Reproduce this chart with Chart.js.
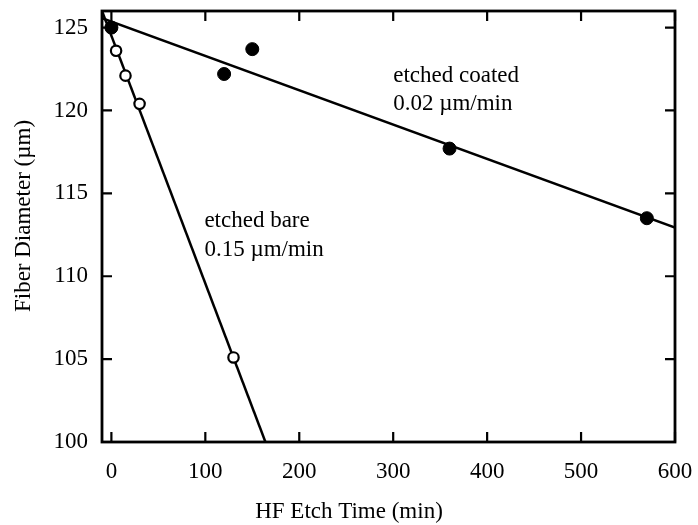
<!DOCTYPE html>
<html>
<head>
<meta charset="utf-8">
<script src="https://cdn.jsdelivr.net/npm/chart.js@4.4.1/dist/chart.umd.min.js"></script>
<style>
  html, body { margin: 0; padding: 0; background: #fff; }
  #wrap { width: 698px; height: 525px; }
</style>
</head>
<body>
<div id="wrap"><canvas id="grafik" width="698" height="525"></canvas></div>
<script>
// data
const coatedTime = [0, 120, 150, 360, 570];
const coatedDiam = [125.0, 122.2, 123.7, 117.7, 113.5];
const bareTime = [0, 5, 15, 30, 130];
const bareDiam = [125.0, 123.6, 122.1, 120.4, 105.1];
// fitted lines (end points)
const coatedFitTime = [-10, 600];
const coatedFitDiam = [125.56, 112.93];
const bareFitTime = [-10, 164];
const bareFitDiam = [126.0, 100.0];
// axes
const xTicks = [0, 100, 200, 300, 400, 500, 600];
const yTicks = [100, 105, 110, 115, 120, 125];
const xTitle = "HF Etch Time (min)";
const yTitle = "Fiber Diameter (\u00b5m)";
const notes = [
  { x: 300, y: 121.72, text: "etched coated" },
  { x: 300, y: 120.0, text: "0.02 \u00b5m/min" },
  { x: 99, y: 112.94, text: "etched bare" },
  { x: 99, y: 111.23, text: "0.15 \u00b5m/min" },
];

const FAMILY = "'Liberation Serif', 'Times New Roman', serif";
const SIZE = 23;

function pts(xs, ys) {
  return xs.map((x, i) => ({ x: x, y: ys[i] }));
}

// frame, inward ticks, titles and notes
const bingkai = {
  id: "bingkai",
  afterDatasetsDraw(chart) {
    const { ctx, chartArea: a, scales } = chart;
    const sx = scales.x, sy = scales.y;
    ctx.save();
    ctx.strokeStyle = "#000";
    ctx.lineWidth = 2.2;
    ctx.beginPath();
    xTicks.forEach((v) => {
      const px = sx.getPixelForValue(v);
      ctx.moveTo(px, a.bottom); ctx.lineTo(px, a.bottom - 10);
      ctx.moveTo(px, a.top); ctx.lineTo(px, a.top + 10);
    });
    yTicks.forEach((v) => {
      const py = sy.getPixelForValue(v);
      ctx.moveTo(a.left, py); ctx.lineTo(a.left + 10, py);
      ctx.moveTo(a.right, py); ctx.lineTo(a.right - 10, py);
    });
    ctx.stroke();
    ctx.lineWidth = 2.8;
    ctx.strokeRect(a.left, a.top, a.right - a.left, a.bottom - a.top);

    ctx.fillStyle = "#000";
    ctx.font = SIZE + "px " + FAMILY;
    ctx.textAlign = "left";
    ctx.textBaseline = "alphabetic";
    notes.forEach((n) => {
      ctx.fillText(n.text, sx.getPixelForValue(n.x), sy.getPixelForValue(n.y));
    });

    ctx.textAlign = "center";
    ctx.textBaseline = "middle";
    ctx.fillText(xTitle, chart.width / 2, 512);
    ctx.translate(24, 216);
    ctx.rotate(-Math.PI / 2);
    ctx.fillText(yTitle, 0, 0);
    ctx.restore();
  },
};

const ctx = document.getElementById("grafik").getContext("2d");
new Chart(ctx, {
  type: "scatter",
  data: {
    datasets: [
      {
        label: "coated",
        data: pts(coatedTime, coatedDiam),
        pointRadius: 6.5,
        pointBackgroundColor: "#000",
        pointBorderColor: "#000",
        pointBorderWidth: 1,
        showLine: false,
        order: 0,
      },
      {
        label: "bare",
        data: pts(bareTime, bareDiam),
        pointRadius: 5.2,
        pointBackgroundColor: "#fff",
        pointBorderColor: "#000",
        pointBorderWidth: 2.2,
        showLine: false,
        order: 1,
      },
      {
        label: "coated fit",
        data: pts(coatedFitTime, coatedFitDiam),
        showLine: true,
        borderColor: "#000",
        borderWidth: 2.5,
        pointRadius: 0,
        order: 2,
      },
      {
        label: "bare fit",
        data: pts(bareFitTime, bareFitDiam),
        showLine: true,
        borderColor: "#000",
        borderWidth: 2.5,
        pointRadius: 0,
        order: 3,
      },
    ],
  },
  options: {
    responsive: false,
    animation: false,
    layout: { padding: { top: 11, right: 23, left: 0, bottom: 0 } },
    plugins: { legend: { display: false }, tooltip: { enabled: false } },
    scales: {
      x: {
        type: "linear",
        min: -10,
        max: 600,
        afterBuildTicks: (s) => { s.ticks = xTicks.map((v) => ({ value: v })); },
        afterFit: (s) => {
          s.height = 83;
          s.paddingLeft = 0;
          s.paddingRight = 0;
        },
        grid: { display: false, drawTicks: false },
        border: { display: false },
        ticks: {
          color: "#000",
          font: { family: FAMILY, size: SIZE },
          padding: 16,
          maxRotation: 0,
        },
      },
      y: {
        type: "linear",
        min: 100,
        max: 126,
        afterBuildTicks: (s) => { s.ticks = yTicks.map((v) => ({ value: v })); },
        afterFit: (s) => {
          s.width = 102;
          s.paddingTop = 0;
          s.paddingBottom = 0;
        },
        grid: { display: false, drawTicks: false },
        border: { display: false },
        ticks: {
          color: "#000",
          font: { family: FAMILY, size: SIZE },
          padding: 14,
        },
      },
    },
  },
  plugins: [bingkai],
});
</script>
</body>
</html>
